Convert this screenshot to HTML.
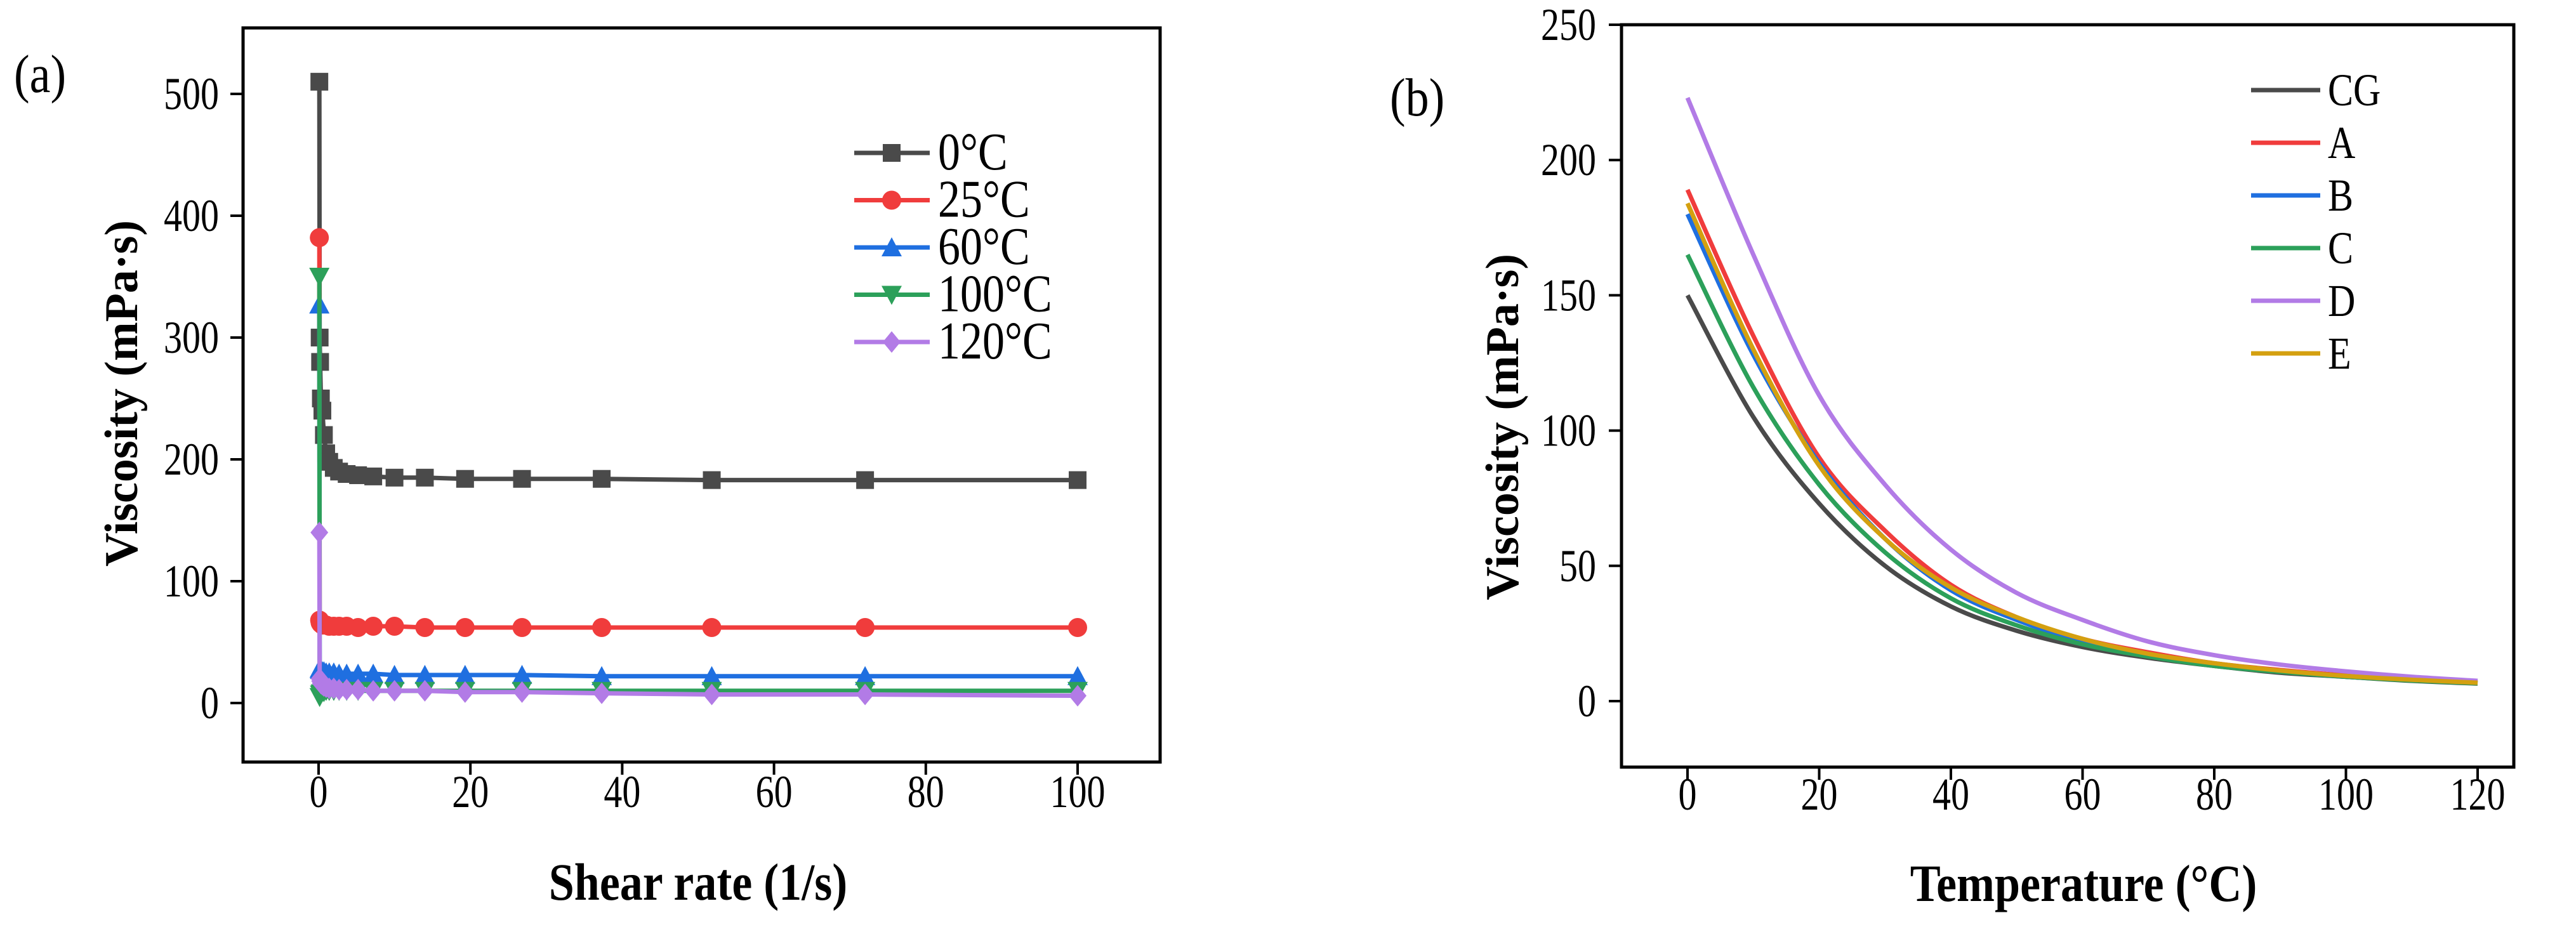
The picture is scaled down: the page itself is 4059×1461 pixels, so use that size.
<!DOCTYPE html>
<html><head><meta charset="utf-8"><style>
html,body{margin:0;padding:0;background:#fff;}
svg{display:block;font-family:"Liberation Serif",serif;}
</style></head><body>
<svg id="s" width="4059" height="1461" viewBox="0 0 4059 1461"></svg>
<script>
const shearRates=[0.1,0.14,0.2,0.3,0.5,0.7,1,1.4,2,2.7,3.7,5.2,7.2,10,14,19.3,26.8,37.3,51.8,72,100];
const seriesA0=[510,300,280,250,240,220,205,198,193,190,188,187,186,185,185,184,184,184,183,183,183];
const seriesA25=[382,68,66,65,64,64,64,63,63,63,63,62,63,63,62,62,62,62,62,62,62];
const seriesA60=[327,28,27,27,26,26,25,25,25,24,24,24,24,23,23,23,23,22,22,22,22];
const seriesA100=[350,5,7,8,9,9,10,10,10,10,10,10,10,10,10,10,10,10,10,10,10];
const seriesA120=[140,20,18,16,15,14,13,12,12,11,11,11,10,10,10,9,9,8,7,7,6];
const labelsA=["0°C","25°C","60°C","100°C","120°C"];
const xTicksA=[0,20,40,60,80,100];
const yTicksA=[0,100,200,300,400,500];
const temps=[0,10,20,30,40,50,60,70,80,90,100,110,120];
const seriesCG=[150,105,73,50,35,26,20,16,13,10.5,9,7.5,6.5];
const seriesA=[189,135,90,63,43,31,23,18,14,11.5,9.5,8,7];
const seriesB=[180,128,88,60,41,30,22,17,13.5,11,9,7.8,6.8];
const seriesC=[165,116,80,55,38,28,21,16.5,13,10.8,9,7.6,6.6];
const seriesD=[223,165,113,80,56,40,30,22,17,13.5,11,9,7.5];
const seriesE=[184,130,87,60,42,31,23,17.5,14,11.3,9.3,7.9,6.8];
const labelsB=["CG","A","B","C","D","E"];
const xTicksB=[0,20,40,60,80,100,120];
const yTicksB=[0,50,100,150,200,250];

const NS="http://www.w3.org/2000/svg";
const svg=document.getElementById('s');
function mk(t,a,p){const e=document.createElementNS(NS,t);for(const k in a)e.setAttribute(k,a[k]);(p||svg).appendChild(e);return e;}
function txt(x,y,s,a,p){const e=mk('text',Object.assign({x:x,y:y},a),p);e.textContent=s;return e;}
function stxt(x,y,s,a,p,sy){const e=mk('text',Object.assign({x:0,y:0,transform:`translate(${x},${y}) scale(1,${sy||1.25})`},a),p);e.textContent=s;return e;}

// Panel A
const xa=v=>502+(v/100)*(1698-502);
const ya=v=>1108-(v/500)*(1108-148);
const gA=mk('g',{});


const boxA=mk('rect',{x:383,y:44,width:1445,height:1157,fill:'none',stroke:'#000','stroke-width':5},gA);


xTicksA.forEach(t=>{mk('line',{x1:xa(t),x2:xa(t),y1:1201,y2:1221,stroke:'#000','stroke-width':4},gA);
 const l=stxt(xa(t),1272,t,{'font-size':58,'text-anchor':'middle'},gA);
 
 });
yTicksA.forEach(t=>{mk('line',{x1:363,x2:383,y1:ya(t),y2:ya(t),stroke:'#000','stroke-width':4},gA);
 const l=stxt(345,ya(t)+24,t,{'font-size':58,'text-anchor':'end'},gA);
 
 });
const xtA=stxt(1100,1418,'Shear rate (1/s)',{'font-size':72,'font-weight':'bold','text-anchor':'middle'},gA,1.15);


const ytA=txt(0,0,'Viscosity (mPa·s)',{'font-size':74,'font-weight':'bold','text-anchor':'middle',transform:'translate(216,620) rotate(-90)'},gA);


const pa=stxt(22,145,'(a)',{'font-size':74},gA,1.15);


const colorsA=['#4a4a4a','#f03c3c','#1f6fe0','#2ca05a','#b27be6'];
const shapesA=['sq','ci','tu','td','di'];
function marker(sh,x,y,c,p){const r=14;
 if(sh==='sq')return mk('rect',{x:x-r,y:y-r,width:2*r,height:2*r,fill:c},p);
 if(sh==='ci')return mk('circle',{cx:x,cy:y,r:r+1,fill:c},p);
 if(sh==='tu')return mk('polygon',{points:`${x},${y-r-2} ${x-r-2},${y+r} ${x+r+2},${y+r}`,fill:c},p);
 if(sh==='td')return mk('polygon',{points:`${x},${y+r+2} ${x-r-2},${y-r} ${x+r+2},${y-r}`,fill:c},p);
 return mk('polygon',{points:`${x},${y-r-3} ${x-r},${y} ${x},${y+r+3} ${x+r},${y}`,fill:c},p);}
[seriesA0,seriesA25,seriesA60,seriesA100,seriesA120].forEach((s,i)=>{
 const g=mk('g',{},gA);
 
 
 const pts=s.map((v,j)=>xa(shearRates[j])+','+ya(v)).join(' ');
 mk('polyline',{points:pts,fill:'none',stroke:colorsA[i],'stroke-width':7},g);
 s.forEach((v,j)=>{const m=marker(shapesA[i],xa(shearRates[j]),ya(v),colorsA[i],g);
  
  });
 const ly=241+i*74.5;
 const lg=mk('g',{},gA);
 
 
 mk('line',{x1:1346,x2:1465,y1:ly,y2:ly,stroke:colorsA[i],'stroke-width':7},lg);
 marker(shapesA[i],1405,ly,colorsA[i],lg);
 stxt(1478,ly+26,labelsA[i],{'font-size':70},lg,1.2);
});

// Panel B
const xb=v=>2659+(v/120)*(3904-2659);
const yb=v=>1105-(v/250)*(1105-39);
const gB=mk('g',{});


const boxB=mk('rect',{x:2555,y:39,width:1406,height:1170,fill:'none',stroke:'#000','stroke-width':5},gB);


xTicksB.forEach(t=>{mk('line',{x1:xb(t),x2:xb(t),y1:1209,y2:1229,stroke:'#000','stroke-width':4},gB);
 const l=stxt(xb(t),1276,t,{'font-size':58,'text-anchor':'middle'},gB);
 
 });
yTicksB.forEach(t=>{mk('line',{x1:2535,x2:2555,y1:yb(t),y2:yb(t),stroke:'#000','stroke-width':4},gB);
 const l=stxt(2515,yb(t)+24,t,{'font-size':58,'text-anchor':'end'},gB);
 
 });
const xtB=stxt(3283,1420,'Temperature (°C)',{'font-size':72,'font-weight':'bold','text-anchor':'middle'},gB,1.15);


const ytB=txt(0,0,'Viscosity (mPa·s)',{'font-size':74,'font-weight':'bold','text-anchor':'middle',transform:'translate(2392,673) rotate(-90)'},gB);


const pb=stxt(2190,182,'(b)',{'font-size':74},gB,1.15);


const colorsB=['#4a4a4a','#f03c3c','#1f6fe0','#2ca05a','#b27be6','#d4a010'];
function smooth(p){let d=`M${p[0][0]},${p[0][1]}`;
 for(let i=0;i<p.length-1;i++){const p0=p[i-1]||p[i],p1=p[i],p2=p[i+1],p3=p[i+2]||p2;
  d+=` C${p1[0]+(p2[0]-p0[0])/6},${p1[1]+(p2[1]-p0[1])/6} ${p2[0]-(p3[0]-p1[0])/6},${p2[1]-(p3[1]-p1[1])/6} ${p2[0]},${p2[1]}`;}
 return d;}
[seriesCG,seriesA,seriesB,seriesC,seriesD,seriesE].forEach((s,i)=>{
 const pts=s.map((v,j)=>[xb(temps[j]),yb(v)]);
 const c=mk('path',{d:smooth(pts),fill:'none',stroke:colorsB[i],'stroke-width':7},gB);
 
 
 const ly=142+i*83;
 const lg=mk('g',{},gB);
 
 
 mk('line',{x1:3547,x2:3656,y1:ly,y2:ly,stroke:colorsB[i],'stroke-width':7},lg);
 stxt(3668,ly+24,labelsB[i],{'font-size':60},lg,1.2);
});
</script>
</body></html>
